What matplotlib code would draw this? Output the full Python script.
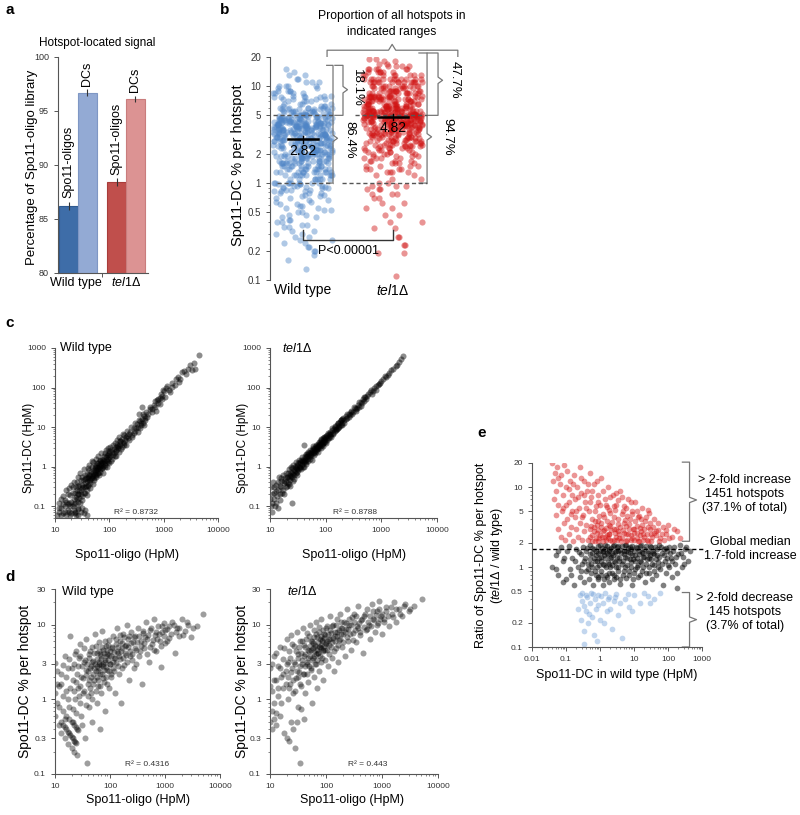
import numpy as np
import matplotlib
matplotlib.use('Agg')
import matplotlib.pyplot as plt
from matplotlib.ticker import FixedLocator, FixedFormatter, LogLocator, NullFormatter
from matplotlib.transforms import blended_transform_factory

plt.rcParams['font.family'] = ['Liberation Sans', 'DejaVu Sans']
plt.rcParams['mathtext.fontset'] = 'custom'
plt.rcParams['mathtext.rm'] = 'Liberation Sans'
plt.rcParams['mathtext.it'] = 'Liberation Sans:italic'

TEL1 = r'$\mathit{tel1}\Delta$'

# ---- panel a : hotspot-located signal
a_bar_labels = ['Spo11-oligos', 'DCs', 'Spo11-oligos', 'DCs']
a_bar_values = [86.2, 96.7, 88.4, 96.1]
a_bar_errors = [0.35, 0.3, 0.35, 0.3]
a_groups = ['Wild type', TEL1]

b_wt_levels = [0.13, 0.16, 0.18, 0.2, 0.22, 0.24, 0.26, 0.28, 0.3, 0.32, 0.35, 0.37, 0.4, 0.42, 0.45,
               0.47, 0.5, 0.53, 0.55, 0.58, 0.61, 0.64, 0.67, 0.7, 0.73, 0.76, 0.79, 0.82, 0.85, 0.88,
               0.91, 0.94, 0.97,
               1.0, 1.1, 1.2, 1.3, 1.4, 1.5, 1.6, 1.7, 1.8, 1.9, 2.0, 2.1, 2.2, 2.3, 2.4, 2.5, 2.6, 2.7, 2.8,
               2.9, 3.0, 3.1, 3.2, 3.3, 3.4, 3.5, 3.6, 3.7, 3.8, 3.9, 4.0, 4.1, 4.2, 4.3, 4.4, 4.5, 4.6,
               4.7, 4.8, 4.9,
               5.0, 5.2, 5.4, 5.6, 5.8, 6.0, 6.3, 6.6, 7.0, 7.3, 7.7, 8.0, 8.5, 9.0, 9.5, 10, 11, 12, 13, 14, 15]
b_wt_counts = [1, 1, 1, 2, 2, 2, 2, 2, 2, 2, 2, 2, 2, 2, 2, 2, 2, 2, 2, 2, 2, 2, 2, 2, 2, 2, 3, 3, 3, 3,
               3, 3, 3,
               8, 8, 10, 10, 10, 10, 10, 10, 10, 10, 10, 10, 10, 8, 8, 8, 8, 8, 8,
               8, 8, 8, 8, 8, 8, 8, 8, 8, 8, 8, 8, 8, 8, 8, 6, 6, 6, 6, 6, 4,
               6, 6, 6, 6, 6, 6, 4, 4, 4, 4, 4, 4, 4, 4, 2, 4, 3, 2, 2, 1, 1]
b_tel1_levels = [0.11, 0.19, 0.23, 0.28, 0.34, 0.4, 0.47, 0.55, 0.62, 0.7, 0.78, 0.86, 0.94,
                 1.0, 1.1, 1.2, 1.3, 1.4, 1.5, 1.6, 1.7, 1.8, 1.9, 2.0, 2.1, 2.2, 2.3, 2.4, 2.5, 2.6, 2.7,
                 2.8, 2.9, 3.0, 3.1, 3.2, 3.3, 3.4, 3.5, 3.6, 3.7, 3.8, 3.9, 4.0, 4.1, 4.2, 4.3, 4.4, 4.5,
                 4.6, 4.7, 4.8, 4.9,
                 5.0, 5.2, 5.4, 5.6, 5.8, 6.0, 6.3, 6.6, 7.0, 7.3, 7.7, 8.0, 8.5, 9.0, 9.5, 10,
                 11, 12, 13, 14, 15, 16, 17, 18, 19]
b_tel1_counts = [1, 2, 2, 2, 2, 2, 2, 2, 2, 2, 3, 3, 3,
                 2, 2, 2, 4, 4, 4, 4, 4, 4, 4, 4, 4, 4, 6, 6, 6, 6, 6, 6, 6, 6, 6, 6, 6, 6, 6, 6, 6, 6, 6,
                 8, 8, 8, 8, 8, 8, 6, 6, 6, 12,
                 12, 12, 12, 12, 10, 10, 12, 12, 12, 10, 10, 10, 10, 10, 8, 10,
                 14, 12, 8, 6, 6, 4, 2, 2, 2]
b_medians = [2.82, 4.82]
b_groups = ['Wild type', TEL1]

# ---- panel c : Spo11-DC vs Spo11-oligo (HpM)
c_wt_points = [
    (11, 0.06), (12, 0.07), (12, 0.12), (13, 0.06), (13, 0.09), (14, 0.18), (14, 0.065), (15, 0.1),
    (15, 0.14), (16, 0.06), (16, 0.25), (17, 0.08), (18, 0.12), (19, 0.19), (20, 0.065),
    (21, 0.1), (21, 0.3), (22, 0.15), (22, 0.08), (23, 0.22), (23, 0.12), (24, 0.06), (24, 0.17),
    (25, 0.26), (25, 0.4), (26, 0.13), (26, 0.2), (27, 0.09), (27, 0.32), (28, 0.16), (28, 0.24),
    (29, 0.7), (30, 0.2), (31, 0.35), (31, 0.14), (32, 0.28), (33, 0.45), (34, 0.22), (35, 0.38),
    (35, 0.6), (36, 0.3), (37, 0.5), (38, 0.19), (39, 0.42), (40, 0.33), (41, 0.55), (42, 0.8),
    (43, 0.46), (44, 0.38), (45, 0.62), (46, 0.52), (48, 1.4), (49, 0.7),
    (51, 0.58), (52, 0.45), (54, 0.75), (55, 0.9), (56, 0.62), (58, 1.1), (60, 0.8), (61, 0.68),
    (63, 1.2), (65, 0.95), (66, 1.5), (68, 0.85), (70, 1.1), (72, 1.3), (74, 0.9), (76, 1.6),
    (78, 1.2), (80, 1.4), (83, 2.2), (85, 1.1), (88, 1.7), (90, 1.35), (93, 2.0), (96, 1.6), (99, 2.5),
    (104, 1.9), (108, 1.4), (112, 2.4), (116, 2.0), (120, 2.8), (125, 1.8), (130, 3.2), (135, 2.5),
    (140, 3.6), (145, 2.9), (150, 3.3), (155, 4.5), (160, 3.8), (166, 2.8), (172, 5.0), (178, 4.2),
    (185, 3.5), (190, 6.2), (195, 4.8), (200, 5.6),
    (215, 6.0), (230, 4.8), (245, 7.5), (260, 6.4), (280, 9.5), (300, 8.0), (320, 12), (340, 10),
    (350, 22), (360, 14), (380, 11), (400, 16), (400, 33), (420, 13), (440, 19), (460, 15), (480, 24),
    (500, 18),
    (550, 28), (600, 24), (650, 36), (700, 32), (750, 48), (800, 40), (850, 55), (900, 70), (950, 50),
    (1000, 80), (1100, 95), (1250, 85), (1400, 130), (1600, 115), (1800, 190), (2000, 160),
    (2400, 260), (2800, 300), (3300, 280), (4400, 650),
    (12, 0.09), (13, 0.15), (14, 0.11), (15, 0.07), (16, 0.13), (17, 0.2), (17, 0.11), (18, 0.07),
    (18, 0.28), (19, 0.1), (20, 0.13), (20, 0.35), (19, 0.06), (23, 0.065), (27, 0.06), (30, 0.07),
    (34, 0.065), (38, 0.06), (26, 0.085), (32, 0.09), (36, 0.08),
    (21, 0.22), (22, 0.11), (22, 0.4), (23, 0.07), (24, 0.3), (25, 0.15), (26, 0.55), (27, 0.2),
    (28, 0.35), (29, 0.12), (30, 0.45), (30, 0.26), (31, 0.55), (32, 0.18), (33, 0.3), (34, 0.85),
    (35, 0.22), (36, 0.48), (37, 0.33), (38, 0.65), (39, 0.26), (40, 0.9), (40, 0.5),
    (41, 0.35), (42, 0.6), (43, 1.1), (44, 0.28), (45, 0.45), (46, 0.75), (47, 0.5), (48, 0.95),
    (49, 0.36), (50, 0.6), (51, 1.3), (52, 0.8), (53, 0.5), (54, 1.0), (55, 0.65), (56, 1.6), (57, 0.8),
    (58, 0.55), (59, 1.25), (60, 1.0), (61, 0.7), (62, 1.8), (63, 0.9), (64, 1.1), (65, 0.6), (66, 0.95),
    (67, 1.4), (68, 0.75), (69, 1.2), (70, 2.2),
    (72, 0.9), (74, 1.5), (76, 1.05), (78, 0.7), (80, 1.9), (82, 1.25), (84, 0.95), (86, 2.6), (88, 1.5),
    (90, 1.0), (92, 2.0), (94, 1.3), (96, 3.0), (98, 1.7), (100, 1.2), (100, 2.2), (104, 3.2),
    (108, 2.6), (112, 1.6), (116, 3.6), (120, 2.2), (125, 4.0), (130, 2.6), (135, 1.8), (140, 4.6),
    (145, 3.4), (150, 2.4), (150, 5.5),
    (160, 4.4), (170, 3.2), (180, 6.8), (190, 4.0), (200, 3.6), (210, 8.0), (220, 5.2), (235, 6.8),
    (250, 10), (265, 5.6), (280, 7.0), (295, 13), (310, 9.2), (330, 7.4), (350, 15), (370, 9.5),
    (390, 12.5), (410, 21), (430, 11), (450, 17),
    (520, 22), (560, 33), (620, 28), (680, 45), (720, 26), (780, 52), (850, 38), (920, 62), (980, 85),
    (1050, 58), (1150, 110), (1300, 75), (1450, 105), (1700, 160), (1900, 140), (2200, 240),
    (2600, 220), (3000, 380), (3600, 420), (3800, 300)]
c_tel1_points = [
    (10.5, 0.1), (11, 0.2), (11, 0.07), (12, 0.15), (12, 0.3), (13, 0.12), (13, 0.24), (14, 0.4),
    (14, 0.09), (15, 0.2), (15, 0.33), (16, 0.5), (17, 0.26), (18, 0.42), (19, 0.3), (20, 0.55),
    (21, 0.38), (21, 0.7), (22, 0.5), (23, 0.6), (23, 0.32), (24, 0.75), (25, 0.55), (25, 0.9),
    (25, 0.12), (26, 0.65), (27, 0.8), (27, 0.48), (28, 1.0), (29, 0.7), (29, 0.9), (30, 1.1),
    (30, 0.75), (31, 0.85), (32, 1.2), (33, 0.95), (34, 1.3), (35, 1.0), (36, 1.5), (37, 1.15),
    (38, 1.4), (39, 1.0), (40, 1.6), (40, 3.5), (41, 1.3), (42, 1.9), (43, 1.45), (44, 1.7), (45, 1.3),
    (46, 2.1), (47, 1.6), (48, 1.9), (49, 2.4), (50, 1.7),
    (52, 2.0), (54, 2.3), (55, 1.8), (57, 2.6), (59, 2.2), (60, 2.9), (62, 2.4), (64, 3.0), (65, 2.6),
    (67, 3.4), (69, 2.8), (70, 3.2), (72, 3.8), (74, 3.1), (76, 3.6), (78, 4.2), (80, 3.4), (82, 4.0),
    (84, 4.6), (86, 3.8), (88, 4.4), (90, 5.2), (92, 4.2), (94, 4.9), (97, 5.6), (99, 4.6),
    (103, 5.4), (106, 6.2), (110, 5.3), (114, 6.8), (118, 6.0), (122, 7.5), (126, 6.6), (130, 8.2),
    (135, 7.2), (140, 9.0), (145, 8.0), (150, 10), (155, 8.8), (160, 11), (165, 9.6), (170, 12.5),
    (175, 10.5), (180, 13.5), (186, 11.5), (192, 15), (196, 13), (200, 16),
    (215, 15), (230, 19), (245, 17), (260, 22), (275, 20), (290, 26), (310, 24), (330, 30), (350, 28),
    (375, 36), (400, 33), (425, 42), (450, 40), (470, 50), (490, 46), (500, 58),
    (560, 62), (620, 75), (680, 70), (740, 95), (800, 88), (880, 115), (960, 130), (1050, 160),
    (1200, 185), (1350, 230), (1500, 270), (1800, 360), (2100, 450), (2500, 620),
    (10, 0.15), (10.5, 0.3), (11, 0.12), (11.5, 0.4), (12, 0.22), (12.5, 0.1), (13, 0.35), (13.5, 0.18),
    (14, 0.26), (14.5, 0.55), (15, 0.14), (15.5, 0.42), (16, 0.3), (16.5, 0.22), (17, 0.6), (17.5, 0.38),
    (18, 0.2), (18.5, 0.5), (19, 0.7), (19.5, 0.4), (20, 0.32),
    (21, 0.55), (22, 0.85), (22, 0.36), (23, 0.45), (24, 1.0), (24, 0.58), (25, 0.7), (26, 0.42),
    (26, 1.1), (27, 0.62), (28, 0.78), (29, 1.3), (30, 0.6), (31, 1.05), (32, 0.8), (33, 1.5), (34, 0.9),
    (35, 1.2), (36, 0.85), (37, 1.7), (38, 1.1), (39, 1.35), (40, 1.0),
    (42, 1.4), (44, 2.1), (45, 1.15), (47, 1.9), (48, 1.4), (50, 2.2), (52, 1.6), (53, 2.7), (55, 2.1),
    (56, 1.5), (58, 2.4), (60, 3.3), (61, 2.0), (63, 2.8), (65, 2.2), (66, 3.6), (68, 2.5), (70, 2.8),
    (72, 3.4), (73, 2.4), (75, 4.2), (77, 3.0), (80, 3.8), (82, 2.9), (84, 5.0), (86, 3.6), (89, 4.0),
    (91, 3.3), (93, 5.6), (96, 4.2), (100, 5.8), (100, 4.0),
    (105, 4.6), (110, 7.0), (115, 5.2), (120, 6.8), (125, 5.6), (130, 9.5), (138, 6.8), (145, 10.5),
    (152, 8.2), (160, 9.0), (168, 13), (175, 9.8), (185, 15), (195, 11), (205, 17), (215, 12.5),
    (230, 16), (245, 21), (260, 18), (280, 24), (300, 21),
    (320, 33), (345, 25), (370, 31), (400, 44), (440, 35), (480, 58), (530, 50), (580, 68), (650, 85),
    (720, 80), (800, 110), (900, 120), (1000, 145), (1150, 200), (1300, 210), (1600, 300), (1900, 380),
    (2300, 520)]
c_r2 = ['R\u00b2 = 0.8732', 'R\u00b2 = 0.8788']

# ---- panel d : Spo11-DC % per hotspot vs Spo11-oligo (HpM)
d_wt_points = [
    (10, 0.6), (10, 3.1), (11, 1.6), (11, 0.9), (12, 1.5), (12, 0.45), (13, 2.2), (13, 0.35), (14, 1.1),
    (14, 0.7), (15, 0.3), (15, 3.8), (16, 1.3), (17, 0.25), (17, 2.6), (18, 0.8), (19, 7.0), (20, 0.22),
    (21, 1.8), (21, 0.5), (22, 3.0), (22, 0.2), (23, 1.0), (24, 4.5), (24, 0.65), (25, 2.2), (25, 0.18),
    (26, 1.4), (27, 3.6), (28, 0.9), (29, 5.5), (30, 2.0), (31, 0.45), (32, 1.2), (33, 3.2), (35, 0.3),
    (36, 2.5), (37, 6.5), (38, 0.14), (39, 1.6),
    (41, 4.0), (42, 0.8), (44, 2.6), (45, 1.2), (47, 5.0), (48, 0.5), (50, 3.3), (52, 1.8), (53, 7.5),
    (55, 2.4), (57, 0.9), (58, 4.2), (60, 1.5), (62, 3.0), (64, 5.8), (65, 0.4), (67, 2.2), (69, 3.8),
    (70, 1.2), (72, 8.2), (74, 2.8), (76, 4.6), (78, 1.7), (80, 3.4), (82, 0.7), (85, 5.2), (88, 2.5),
    (90, 4.0), (94, 1.4), (97, 6.2),
    (102, 3.0), (105, 2.0), (108, 4.8), (112, 7.0), (115, 2.6), (118, 3.6), (122, 1.2), (126, 5.5),
    (130, 3.1), (135, 9.0), (140, 4.2), (145, 2.2), (150, 6.0), (155, 3.5), (160, 0.9), (166, 4.8),
    (172, 7.5), (178, 2.9), (185, 5.2), (192, 3.9), (200, 10), (210, 6.5), (220, 1.8), (230, 4.4),
    (240, 8.0), (250, 3.4), (262, 5.8), (275, 2.6), (288, 7.0), (300, 4.6),
    (320, 9.0), (340, 3.8), (360, 6.0), (380, 1.6), (400, 7.8), (420, 4.9), (450, 11), (480, 6.5),
    (510, 3.2), (540, 8.5), (580, 5.5), (620, 12), (660, 7.2), (700, 4.4), (750, 9.5), (800, 6.0),
    (850, 2.7), (900, 8.0), (950, 10.5), (1000, 5.6),
    (1100, 8.8), (1200, 6.6), (1350, 11), (1500, 4.2), (1650, 9.0), (1800, 7.0), (2000, 12),
    (2300, 8.2), (2600, 10), (3000, 6.8), (3800, 9.5), (4900, 14),
    (10, 1.2), (11, 2.4), (12, 0.8), (13, 1.6), (14, 2.9), (15, 0.55), (16, 2.0), (17, 1.0), (18, 3.5),
    (19, 1.4), (20, 2.6), (21, 0.75), (22, 1.3), (23, 4.0), (24, 1.7), (25, 0.4), (26, 2.8), (27, 1.1),
    (28, 3.8), (29, 1.5), (30, 0.6),
    (13, 0.5), (14, 0.45), (15, 0.42), (16, 0.4), (17, 0.37), (18, 0.35), (19, 0.33), (20, 0.31),
    (21, 0.3), (22, 0.28), (23, 0.27), (24, 0.26), (16, 0.6), (18, 0.55), (20, 0.5), (22, 0.45),
    (24, 0.42), (26, 0.39),
    (31, 2.8), (32, 1.9), (33, 4.8), (34, 1.3), (35, 3.4), (36, 0.85), (37, 2.1), (38, 3.0), (39, 1.1),
    (40, 2.4), (41, 1.8), (42, 3.6), (43, 1.4), (44, 4.5), (45, 2.0), (46, 2.8), (47, 1.0), (48, 3.2),
    (49, 2.2), (50, 1.6), (51, 4.2), (52, 2.6), (54, 3.0), (55, 1.3), (56, 5.2), (57, 2.0), (58, 2.8),
    (59, 3.5), (60, 2.4),
    (61, 1.8), (62, 4.4), (63, 2.6), (64, 3.2), (66, 1.5), (67, 4.0), (68, 2.9), (70, 3.5), (71, 2.2),
    (73, 5.0), (74, 1.9), (75, 3.0), (77, 4.2), (78, 2.5), (80, 6.0), (81, 3.2), (83, 2.0), (84, 3.8),
    (86, 2.7), (87, 4.6), (89, 1.6), (91, 3.4), (92, 5.4), (95, 2.4), (96, 3.9), (98, 3.0), (100, 4.4),
    (103, 2.2), (106, 3.8), (110, 5.0), (113, 3.2), (116, 4.3), (119, 2.4),
    (124, 3.6), (128, 6.5), (132, 4.4), (137, 2.8), (142, 5.0), (147, 3.8), (152, 7.2), (158, 4.4),
    (163, 2.6), (168, 5.6), (175, 3.6), (182, 6.8), (188, 4.2), (195, 5.4), (205, 3.2), (215, 5.0),
    (225, 7.0), (235, 3.8), (245, 5.6), (255, 4.0), (270, 6.8), (285, 4.8), (300, 3.0), (315, 5.8),
    (330, 7.0), (350, 4.4), (370, 5.2), (390, 8.2),
    (410, 5.6), (440, 6.8), (470, 4.0), (500, 7.2), (530, 5.0), (560, 9.0), (600, 6.2), (640, 4.6),
    (680, 8.0), (720, 6.4), (780, 7.4), (830, 5.2), (880, 9.5), (940, 7.0), (1000, 8.4), (1100, 6.0),
    (1200, 9.6), (1300, 7.6), (1450, 10), (1600, 8.0), (1800, 9.0), (2100, 7.2), (2500, 11), (3200, 9.0)]
d_tel1_points = [
    (10, 0.5), (10, 2.6), (11, 1.3), (11, 0.7), (12, 3.8), (12, 0.9), (13, 1.8), (13, 0.45), (14, 2.8),
    (14, 1.1), (15, 5.0), (15, 0.6), (16, 2.0), (17, 1.4), (17, 3.5), (18, 0.35), (19, 2.4), (20, 6.5),
    (21, 1.0), (21, 3.2), (22, 0.28), (22, 4.4), (23, 1.6), (24, 7.2), (24, 0.5), (25, 2.6), (26, 1.2),
    (27, 5.2), (28, 0.22), (28, 3.0), (29, 1.9), (30, 8.0), (31, 0.8), (32, 4.0), (33, 2.3), (34, 0.14),
    (35, 6.0), (36, 1.5), (38, 3.4), (39, 9.0),
    (41, 2.2), (42, 5.0), (43, 1.2), (45, 7.8), (46, 3.0), (48, 1.7), (50, 4.4), (52, 10), (53, 2.6),
    (55, 6.0), (57, 0.9), (58, 3.6), (60, 8.5), (62, 2.0), (64, 5.2), (65, 11), (67, 3.0), (69, 1.4),
    (70, 6.8), (72, 4.2), (74, 2.4), (76, 9.2), (78, 5.0), (80, 3.2), (83, 12), (85, 6.2), (88, 1.8),
    (90, 4.6), (94, 7.5), (97, 3.4),
    (102, 5.5), (105, 9.5), (108, 2.8), (112, 6.5), (115, 4.0), (118, 13), (122, 7.8), (126, 3.6),
    (130, 5.8), (135, 10), (140, 2.4), (145, 7.0), (150, 4.8), (155, 12), (160, 8.0), (166, 3.2),
    (172, 6.2), (178, 14), (185, 9.0), (192, 5.0), (200, 7.5), (210, 11), (220, 3.8), (230, 8.8),
    (240, 16), (250, 6.0), (262, 10), (275, 4.6), (288, 12.5), (300, 7.8),
    (320, 14), (340, 5.8), (360, 9.5), (380, 18), (400, 7.2), (420, 11.5), (450, 4.2), (480, 13),
    (510, 8.5), (540, 16), (580, 10), (620, 6.5), (660, 19), (700, 12), (750, 8.0), (800, 15),
    (850, 10.5), (900, 21), (950, 13), (1000, 7.5),
    (1100, 12), (1200, 17), (1350, 9.5), (1500, 14), (1650, 20), (1800, 11), (2000, 16), (2300, 13),
    (2600, 19), (3000, 15), (3800, 18), (5200, 22),
    (10, 1.5), (11, 3.0), (12, 1.8), (13, 4.2), (14, 1.4), (15, 2.6), (16, 0.9), (17, 2.2), (18, 4.8),
    (19, 1.6), (20, 3.0), (21, 2.0), (22, 1.4), (23, 3.6), (24, 2.3), (25, 5.5), (26, 1.8), (27, 3.2),
    (28, 1.3), (29, 4.4), (30, 2.4),
    (11, 0.4), (12, 0.55), (13, 0.65), (20, 0.3), (26, 0.4), (30, 0.5), (36, 0.75), (40, 0.55),
    (31, 3.6), (32, 2.0), (33, 5.0), (34, 2.8), (35, 1.6), (36, 4.2), (37, 3.0), (38, 6.0), (39, 2.2),
    (40, 3.8), (41, 5.4), (42, 2.8), (43, 4.0), (44, 6.5), (45, 3.2), (46, 2.2), (47, 4.6), (48, 3.6),
    (49, 7.0), (50, 2.8), (51, 5.2), (52, 3.8), (54, 4.6), (55, 2.5), (56, 6.0), (57, 3.4), (58, 4.8),
    (59, 5.6), (60, 3.8),
    (61, 4.4), (62, 6.8), (63, 3.0), (64, 5.4), (66, 4.0), (67, 7.5), (68, 4.6), (70, 3.4), (71, 5.8),
    (73, 4.2), (74, 8.0), (75, 5.0), (77, 3.8), (78, 6.4), (80, 4.8), (81, 7.0), (83, 5.4), (84, 3.6),
    (86, 6.0), (87, 4.4), (89, 8.5), (91, 5.2), (92, 6.6), (95, 4.6), (96, 7.2), (98, 5.6), (100, 9.0),
    (103, 6.0), (106, 4.6), (110, 7.6), (113, 5.4), (116, 8.6), (119, 6.4),
    (124, 5.0), (128, 9.5), (132, 6.6), (137, 4.4), (142, 8.0), (147, 6.0), (152, 10), (158, 7.0),
    (163, 5.4), (168, 8.6), (175, 6.4), (182, 11), (188, 7.4), (195, 9.0), (205, 5.8), (215, 8.0),
    (225, 10.5), (235, 6.8), (245, 8.8), (255, 12), (270, 7.6), (285, 9.8), (300, 6.2), (315, 11),
    (330, 8.4), (350, 13), (370, 9.0), (390, 10.5),
    (410, 8.0), (440, 12), (470, 9.4), (500, 14), (530, 8.8), (560, 11), (600, 13), (640, 9.6),
    (680, 15), (720, 11.5), (780, 13.5), (830, 10), (880, 16), (940, 12), (1000, 14), (1100, 11),
    (1200, 15), (1300, 13), (1450, 17), (1600, 12.5), (1800, 16), (2100, 14), (2500, 18), (3200, 16)]
d_r2 = ['R\u00b2 = 0.4316', 'R\u00b2 = 0.443']

# ---- panel e : ratio tel1/wt vs Spo11-DC in wild type
e_up_points = [
    (0.04, 20), (0.042, 12), (0.045, 7), (0.048, 15), (0.05, 4.5), (0.05, 9), (0.055, 18), (0.06, 3),
    (0.06, 6), (0.065, 11), (0.07, 2.4), (0.07, 14), (0.075, 5), (0.08, 8), (0.085, 3.6), (0.09, 19),
    (0.095, 2.2), (0.1, 10),
    (0.11, 4), (0.11, 16), (0.12, 6.5), (0.12, 2.6), (0.13, 12), (0.14, 3.2), (0.15, 8), (0.15, 5),
    (0.16, 2.1), (0.17, 14), (0.18, 4.2), (0.19, 7), (0.2, 3), (0.21, 10), (0.22, 2.4), (0.24, 5.5),
    (0.25, 18), (0.26, 3.6), (0.28, 8.5), (0.3, 2.2),
    (0.32, 4.5), (0.33, 12), (0.35, 2.8), (0.37, 6.5), (0.4, 3.4), (0.42, 9), (0.45, 2.2), (0.48, 5),
    (0.5, 15), (0.52, 3), (0.55, 7.5), (0.58, 2.5), (0.6, 4), (0.65, 11), (0.68, 3.2), (0.7, 2.1),
    (0.75, 5.8), (0.8, 2.7), (0.85, 8), (0.9, 3.8), (0.95, 2.3), (1.0, 6),
    (1.05, 3.2), (1.1, 13), (1.15, 2.4), (1.2, 4.6), (1.3, 2.9), (1.4, 7), (1.5, 2.2), (1.6, 3.8),
    (1.7, 10), (1.8, 2.6), (1.9, 5.2), (2.0, 3.3), (2.2, 2.1), (2.4, 8), (2.6, 4.2), (2.8, 2.7),
    (3.0, 6), (3.3, 3.5), (3.6, 2.3), (4.0, 9), (4.4, 4.6), (4.8, 2.9), (5.2, 5.8), (5.7, 3.3),
    (6.2, 2.2), (6.8, 7), (7.4, 4), (8.0, 2.5), (9.0, 5), (10, 3),
    (11, 6.5), (12, 2.3), (13, 4.2), (15, 3.1), (17, 5.5), (19, 2.6), (21, 3.8), (24, 2.2), (27, 4.8),
    (30, 3), (34, 2.4), (38, 4), (43, 2.8), (50, 3.6), (60, 2.3), (70, 3.2), (85, 2.6), (100, 3.4),
    (130, 2.4), (190, 2.8),
    (1.2, 2.1), (1.6, 2.5), (2.0, 2.2), (2.5, 3.0), (3.0, 2.4), (3.5, 2.8), (4.2, 2.1), (5.0, 3.6),
    (6.0, 2.6), (7.0, 3.0), (8.5, 2.3), (10, 2.7), (12, 3.3), (14, 2.1), (16, 2.8), (20, 2.4),
    (25, 3.2), (32, 2.1), (40, 2.7), (55, 2.1),
    (0.5, 2.4), (0.55, 3.3), (0.6, 2.1), (0.65, 2.8), (0.7, 3.8), (0.75, 2.3), (0.8, 3.4), (0.85, 2.1),
    (0.9, 2.9), (0.95, 4.4), (1.0, 2.5), (1.1, 3.6), (1.2, 2.8), (1.3, 4.2), (1.4, 2.4), (1.5, 3.1),
    (1.6, 5.6), (1.7, 2.3), (1.8, 3.4), (1.9, 2.6), (2.0, 4.8), (2.1, 2.9), (2.3, 3.7), (2.5, 2.2),
    (2.7, 5.2), (2.9, 3.0), (3.1, 2.2), (3.4, 4.0), (3.7, 2.6), (4.0, 3.2), (4.3, 2.3), (4.6, 5.0),
    (5.0, 2.7), (5.4, 3.9), (5.8, 2.1), (6.3, 4.4), (6.8, 2.6), (7.3, 3.5), (7.9, 2.2), (8.5, 4.6),
    (9.2, 3.0), (10, 2.2), (11, 3.8), (12, 2.7), (13, 2.1), (14, 4.4), (15, 2.5), (17, 3.4), (18, 2.2),
    (20, 3.0), (22, 4.2), (24, 2.6), (26, 2.1), (29, 3.6), (32, 2.6), (36, 3.2), (45, 2.5), (52, 2.9),
    (65, 2.6), (75, 2.2), (90, 2.9), (110, 2.3), (150, 3.0), (220, 2.3),
    (0.06, 13), (0.08, 5.5), (0.1, 6), (0.12, 9.5), (0.14, 4.6), (0.16, 11), (0.2, 5), (0.22, 7.5),
    (0.27, 13), (0.3, 4.2), (0.35, 8), (0.4, 5.5), (0.45, 11), (0.5, 6.5), (0.6, 9), (0.7, 5),
    (0.8, 12), (0.9, 6.5), (1.2, 9), (1.5, 6), (2.0, 7.5), (2.5, 5.8), (3.0, 8.5), (3.5, 6.8),
    (4.5, 7.5), (6, 5.5), (8, 6.5), (12, 5), (16, 4), (25, 5.2)]
e_mid_points = [
    (0.04, 1.0), (0.05, 1.4), (0.06, 0.8), (0.07, 1.8), (0.08, 1.2), (0.1, 0.7), (0.11, 1.6),
    (0.13, 0.95), (0.15, 1.3), (0.17, 0.6), (0.2, 1.7), (0.22, 1.0), (0.25, 0.75), (0.28, 1.45),
    (0.3, 1.1),
    (0.32, 1.8), (0.34, 0.65), (0.36, 1.3), (0.38, 0.9), (0.4, 1.6), (0.43, 1.1), (0.46, 0.7),
    (0.5, 1.9), (0.52, 1.25), (0.55, 0.85), (0.58, 1.5), (0.6, 1.0), (0.64, 0.6), (0.67, 1.7),
    (0.7, 1.2), (0.74, 0.8), (0.78, 1.4), (0.82, 1.0), (0.86, 1.85), (0.9, 0.7), (0.95, 1.3), (1.0, 1.6),
    (1.05, 0.9), (1.1, 1.2), (1.15, 1.75), (1.2, 0.6), (1.3, 1.4), (1.35, 1.05), (1.4, 1.9), (1.5, 0.8),
    (1.6, 1.5), (1.7, 1.15), (1.8, 0.65), (1.9, 1.7), (2.0, 1.0), (2.1, 1.35), (2.2, 0.85),
    (2.35, 1.85), (2.5, 1.2), (2.6, 0.7), (2.8, 1.55), (3.0, 1.0), (3.2, 1.8), (3.4, 0.9), (3.6, 1.3),
    (3.8, 0.62), (4.0, 1.65), (4.3, 1.1), (4.6, 0.8), (5.0, 1.45), (5.3, 1.9), (5.6, 1.0), (6.0, 0.72),
    (6.4, 1.3), (6.8, 1.75), (7.2, 0.9), (7.6, 1.5), (8.0, 1.15), (8.5, 0.6), (9.0, 1.85), (9.5, 1.25),
    (10, 0.85), (1.25, 1.55), (2.3, 1.5), (3.5, 1.6), (5.8, 1.6), (8.2, 1.7),
    (11, 1.4), (11.5, 1.8), (12, 1.0), (13, 0.75), (14, 1.6), (15, 1.2), (16, 1.9), (17, 0.9),
    (18, 1.35), (20, 1.7), (21, 0.65), (23, 1.1), (25, 1.5), (27, 0.85), (29, 1.85), (31, 1.25),
    (33, 0.7), (36, 1.6), (39, 1.05), (42, 1.8), (45, 0.8), (48, 1.4), (52, 1.15), (56, 1.9),
    (60, 0.95), (65, 1.5), (70, 0.6), (75, 1.7), (80, 1.2), (86, 0.85), (92, 1.6), (100, 1.05),
    (18, 1.5), (28, 1.3), (40, 1.45),
    (110, 1.8), (120, 1.3), (130, 0.75), (145, 1.6), (160, 1.1), (180, 0.55), (200, 1.45), (220, 1.9),
    (250, 1.0), (280, 1.35), (320, 1.7), (380, 1.2), (440, 1.6),
    (0.5, 1.45), (0.55, 1.1), (0.6, 1.75), (0.65, 1.3), (0.7, 0.9), (0.75, 1.6), (0.8, 1.2),
    (0.85, 0.75), (0.9, 1.5), (0.95, 1.05), (1.0, 1.9), (1.05, 1.35), (1.1, 0.8), (1.2, 1.6),
    (1.25, 1.1), (1.3, 0.7), (1.4, 1.3), (1.45, 1.7), (1.5, 1.0), (1.6, 1.85), (1.65, 0.75), (1.7, 1.45),
    (1.8, 1.1), (1.85, 1.6), (1.9, 0.85), (2.0, 1.3), (2.1, 1.75), (2.2, 1.05), (2.4, 1.4), (2.5, 0.8),
    (2.6, 1.9), (2.7, 1.15), (2.9, 1.6), (3.0, 0.75), (3.1, 1.35), (3.3, 1.0), (3.5, 1.85), (3.7, 1.2),
    (3.9, 0.7), (4.1, 1.5), (4.4, 1.85), (4.7, 1.2), (5.0, 0.9), (5.2, 1.6), (5.5, 1.35), (6.0, 1.9),
    (6.2, 1.05), (6.6, 1.55), (7.0, 0.8), (7.4, 1.25), (7.8, 1.8), (8.2, 1.0), (8.8, 1.4), (9.3, 0.7),
    (10, 1.6), (10.5, 1.2), (11, 0.95), (12, 1.75), (12.5, 1.3), (13, 1.05), (14, 1.45), (15, 0.8),
    (15.5, 1.85), (16.5, 1.15), (17.5, 1.55), (19, 1.0), (20, 1.35), (22, 1.85), (23, 0.85), (24, 1.25),
    (26, 1.6), (28, 1.0), (30, 1.4), (32, 1.8), (34, 1.1), (37, 1.5), (40, 0.9), (43, 1.25), (46, 1.7),
    (50, 1.0), (55, 1.35), (62, 1.8), (68, 1.1), (76, 1.4), (85, 1.75), (95, 1.3), (105, 1.0),
    (115, 1.5), (135, 1.2), (150, 1.8), (170, 1.35), (190, 0.85), (240, 1.5), (300, 1.1), (350, 1.8),
    (0.05, 0.95), (0.06, 1.6), (0.08, 0.65), (0.09, 1.3), (0.12, 1.85), (0.14, 0.8), (0.18, 1.2),
    (0.24, 1.55), (0.27, 0.9), (0.33, 1.2), (0.42, 1.75), (0.45, 0.95)]
e_down_points = [
    (0.22, 0.3), (0.25, 0.45), (0.28, 0.22), (0.3, 0.38), (0.33, 0.16), (0.35, 0.11), (0.38, 0.45),
    (0.4, 0.28), (0.45, 0.2), (0.5, 0.35), (0.55, 0.48), (0.6, 0.24), (0.65, 0.14), (0.7, 0.4),
    (0.75, 0.3), (0.8, 0.12), (0.9, 0.45), (1.0, 0.22), (1.2, 0.35), (1.4, 0.47), (1.6, 0.28),
    (1.9, 0.42), (2.2, 0.17), (2.5, 0.38), (3.0, 0.46), (3.5, 0.25), (4.5, 0.13), (5.5, 0.4),
    (7, 0.32), (10, 0.45), (15, 0.36), (25, 0.44), (40, 0.4), (60, 0.47),
    (0.3, 0.48), (0.35, 0.33), (0.42, 0.42), (0.48, 0.26), (0.62, 0.46), (0.85, 0.34), (1.1, 0.44),
    (1.3, 0.2), (1.7, 0.4), (2.0, 0.3), (2.8, 0.42), (4.0, 0.36), (6.5, 0.46), (9, 0.28), (20, 0.48),
    (30, 0.35)]
e_median = 1.7

W, H = 800, 815
GREY = '#555555'
fig = plt.figure(figsize=(W / 100, H / 100), dpi=100)


def axes_px(l, t, r, b):
    return fig.add_axes([l / W, 1 - b / H, (r - l) / W, (b - t) / H])


def ftext(x, y, s, **kw):
    fig.text(x / W, 1 - y / H, s, **kw)


def plain_spines(ax, bottom=True):
    for s in ['top', 'right']:
        ax.spines[s].set_visible(False)
    ax.spines['bottom'].set_visible(bottom)
    for s in ['left', 'bottom']:
        ax.spines[s].set_color(GREY)
        ax.spines[s].set_linewidth(0.8)


def log_ticks(axis, ticks):
    axis.set_major_locator(FixedLocator(ticks))
    axis.set_major_formatter(FixedFormatter(['%g' % t for t in ticks]))
    axis.set_minor_locator(LogLocator(base=10, subs=np.arange(2, 10), numticks=30))
    axis.set_minor_formatter(NullFormatter())


def tick_style(ax, size=6):
    ax.tick_params(which='both', direction='out', colors=GREY, labelsize=size, labelcolor='#333333')
    ax.tick_params(which='major', length=3, width=0.7)
    ax.tick_params(which='minor', length=1.7, width=0.5)


def vbrace(ax, x, y0, y1, ytip, hook, tip, **kw):
    # bracket on the right side of a y-range (log y), hooks point left, tip points right
    ax.plot([x - hook, x, x, x + tip, x, x, x - hook],
            [y1, y1, ytip * 1.08, ytip, ytip / 1.08, y0, y0], clip_on=False, **kw)


def strip_jitter(n, half):
    # spread points sideways inside the strip (position only)
    h = np.sin(np.arange(n) * 12.9898 + 1.0) * 43758.5453
    return (h - np.floor(h) - 0.5) * 2 * half


# ---------------- a
ax = axes_px(58, 57, 148, 273)
a_pos = [0.55, 1.5, 3.0, 3.95]
a_colors = ['#3e6da8', '#93aad4', '#c04f4c', '#dc9393']
a_edges = ['#2f5a90', '#7f97c4', '#a83c3a', '#c97d7d']
ax.bar(a_pos, a_bar_values, width=0.95, color=a_colors, edgecolor=a_edges, linewidth=0.8)
ax.errorbar(a_pos, a_bar_values, yerr=a_bar_errors, fmt='none', ecolor='#333333', elinewidth=0.8)
for p, v, e, lab in zip(a_pos, a_bar_values, a_bar_errors, a_bar_labels):
    ax.text(p, v + e + 0.35, lab, rotation=90, ha='center', va='bottom', fontsize=9)
ax.set_xlim(0, 4.6)
ax.set_ylim(80, 100)
ax.set_yticks([80, 85, 90, 95, 100])
ax.set_xticks([2.25])
ax.set_xticklabels([''])
plain_spines(ax)
tick_style(ax, 6.5)
tr = blended_transform_factory(ax.transData, ax.transAxes)
for x, g in zip([0.92, 3.47], a_groups):
    ax.text(x, -0.046, g, transform=tr, ha='center', va='center', fontsize=9)
ax.set_ylabel('Percentage of Spo11-oligo library', fontsize=9.5, ha='center', va='center')
ax.yaxis.set_label_coords(-0.29, 0.49)
ftext(97, 43, 'Hotspot-located signal', ha='center', va='center', fontsize=8.5)
ftext(5, 10, 'a', fontsize=11, fontweight='bold', va='center')

# ---------------- b
ax = axes_px(270, 57, 460, 280)
ax.set_yscale('log')
ax.set_ylim(0.1, 20)
ax.set_xlim(-0.367, 1.744)
b_data = [np.repeat(b_wt_levels, b_wt_counts), np.repeat(b_tel1_levels, b_tel1_counts)]
b_colors = ['#4f85c6', '#d01212']
for i, (vals, col) in enumerate(zip(b_data, b_colors)):
    ax.scatter(i + strip_jitter(len(vals), 0.33), vals, s=20, color=col, alpha=0.45,
               linewidths=0, zorder=2)
for i, m in enumerate(b_medians):
    ax.plot([i - 0.17, i + 0.17], [m, m], color='k', lw=1.8, zorder=4)
    ax.plot([i, i], [m / 1.08, m * 1.08], color='k', lw=1, zorder=4)
    ax.annotate('%.2f' % m, (i, m), xytext=(0, -8), textcoords='offset points',
                ha='center', va='center', fontsize=10, zorder=5)
dash = dict(color=GREY, lw=1, ls=(0, (3, 2)), zorder=3)
ax.plot([-0.333, 0.356], [5, 5], **dash)
ax.plot([0.578, 1.378], [5, 5], **dash)
ax.plot([-0.29, 0.333], [1, 1], **dash)
ax.plot([0.433, 1.378], [1, 1], **dash)
br = dict(color='#777777', lw=0.9)
vbrace(ax, 0.444, 5, 16.4, 9.2, 0.09, 0.05, **br)
vbrace(ax, 0.333, 1, 16.4, 2.9, 0.07, 0.05, **br)
vbrace(ax, 1.378, 1, 22, 3.0, 0.09, 0.05, **br)
vbrace(ax, 1.5, 5, 22, 11.5, 0.12, 0.05, **br)
ax.text(0.6, 9.6, '18.1%', rotation=-90, ha='center', va='center', fontsize=9.5)
ax.text(0.52, 2.8, '86.4%', rotation=-90, ha='center', va='center', fontsize=9.5)
ax.text(1.6, 3.0, '94.7%', rotation=-90, ha='center', va='center', fontsize=9.5)
ax.text(1.68, 11.7, '47.7%', rotation=-90, ha='center', va='center', fontsize=9.5)
# top brace
ax.plot([0.267, 0.267, 0.95, 0.99, 1.03, 1.72, 1.72], [20.3, 23.5, 23.5, 27, 23.5, 23.5, 20.3],
        clip_on=False, **br)
ftext(392, 24, 'Proportion of all hotspots in\nindicated ranges', ha='center', va='center',
      fontsize=8.7, linespacing=1.35)
# p value
ax.plot([0, 0, 1, 1], [0.33, 0.26, 0.26, 0.33], color='#333333', lw=1)
ax.text(0.5, 0.2, 'P<0.00001', ha='center', va='center', fontsize=9)
log_ticks(ax.yaxis, [0.1, 0.2, 0.5, 1, 2, 5, 10, 20])
ax.set_xticks([])
plain_spines(ax, bottom=False)
tick_style(ax, 7)
for i, g in enumerate(b_groups):
    ax.text(i, -0.045, g, transform=blended_transform_factory(ax.transData, ax.transAxes),
            ha='center', va='center', fontsize=10)
ax.set_ylabel('Spo11-DC % per hotspot', fontsize=10.5, ha='center', va='center')
ax.yaxis.set_label_coords(-0.168, 0.516)
ftext(220, 10, 'b', fontsize=11, fontweight='bold', va='center')


# ---------------- c, d
def cloud_panel(box, pts, ylim, yticks, title, r2, ylab, ylab_xy, xlab_xy, title_xy, r2_xy, ylab_size,
                alpha):
    ax = axes_px(*box)
    x, y = zip(*pts)
    ax.scatter(x, y, s=19, color='k', alpha=alpha, linewidths=0)
    ax.set_xscale('log')
    ax.set_yscale('log')
    ax.set_xlim(10, 10000)
    ax.set_ylim(*ylim)
    log_ticks(ax.xaxis, [10, 100, 1000, 10000])
    log_ticks(ax.yaxis, yticks)
    plain_spines(ax)
    tick_style(ax, 6)
    ax.text(title_xy[0], title_xy[1], title, transform=ax.transAxes, ha='left', va='center', fontsize=9)
    ax.text(r2_xy[0], r2_xy[1], r2, transform=ax.transAxes, ha='center', va='center', fontsize=6,
            color='#333333')
    ax.set_ylabel(ylab, fontsize=ylab_size, ha='center', va='center')
    ax.yaxis.set_label_coords(*ylab_xy)
    ax.set_xlabel('Spo11-oligo (HpM)', fontsize=9, ha='center', va='center')
    ax.xaxis.set_label_coords(*xlab_xy)
    return ax


c_ticks = [0.1, 1, 10, 100, 1000]
cloud_panel((55, 348, 218, 518), c_wt_points, (0.05, 1000), c_ticks, 'Wild type', c_r2[0],
            'Spo11-DC (HpM)', (-0.16, 0.41), (0.44, -0.218), (0.03, 1.0), (0.5, 0.03), 8.5, 0.45)
cloud_panel((270, 348, 437, 518), c_tel1_points, (0.05, 1000), c_ticks, TEL1, c_r2[1],
            'Spo11-DC (HpM)', (-0.16, 0.41), (0.5, -0.218), (0.07, 1.0), (0.51, 0.03), 8.5, 0.45)
d_ticks = [0.1, 0.3, 1, 3, 10, 30]
cloud_panel((55, 589, 220, 774), d_wt_points, (0.1, 30), d_ticks, 'Wild type', d_r2[0],
            'Spo11-DC % per hotspot', (-0.18, 0.5), (0.5, -0.14), (0.04, 0.985), (0.56, 0.049), 10, 0.38)
cloud_panel((270, 589, 438, 774), d_tel1_points, (0.1, 30), d_ticks, TEL1, d_r2[1],
            'Spo11-DC % per hotspot', (-0.167, 0.5), (0.49, -0.14), (0.1, 0.985), (0.58, 0.049), 10, 0.38)
ftext(5, 323, 'c', fontsize=11, fontweight='bold', va='center')
ftext(5, 577, 'd', fontsize=11, fontweight='bold', va='center')

# ---------------- e
ax = axes_px(532, 463, 702, 647)
for pts, col, al in [(e_mid_points, '#000000', 0.5), (e_up_points, '#d41414', 0.45),
                     (e_down_points, '#6f9fd8', 0.42)]:
    x, y = zip(*pts)
    ax.scatter(x, y, s=17, color=col, alpha=al, linewidths=0)
ax.set_xscale('log')
ax.set_yscale('log')
ax.set_xlim(0.01, 1000)
ax.set_ylim(0.1, 20)
ax.axhline(e_median, xmin=0, xmax=1.02, color='k', lw=1, ls=(0, (3, 2)), clip_on=False)
log_ticks(ax.xaxis, [0.01, 0.1, 1, 10, 100, 1000])
log_ticks(ax.yaxis, [0.1, 0.2, 0.5, 1, 2, 5, 10, 20])
plain_spines(ax)
tick_style(ax, 6)
vbrace(ax, 430, 2.1, 20.5, 6.9, 165, 260, **br)
vbrace(ax, 430, 0.1, 0.48, 0.22, 165, 260, **br)
ax.set_xlabel('Spo11-DC in wild type (HpM)', fontsize=9, ha='center', va='center')
ax.xaxis.set_label_coords(0.5, -0.152)
ax.set_ylabel('Ratio of Spo11-DC % per hotspot\n(' + TEL1 + ' / wild type)', fontsize=9,
              ha='center', va='center', linespacing=1.2)
ax.yaxis.set_label_coords(-0.247, 0.5)
ftext(745, 494, '> 2-fold increase\n1451 hotspots\n(37.1% of total)', ha='center', va='center',
      fontsize=9, linespacing=1.25)
ftext(750, 549, 'Global median\n1.7-fold increase', ha='center', va='center', fontsize=9,
      linespacing=1.25)
ftext(745, 612, '> 2-fold decrease\n145 hotspots\n(3.7% of total)', ha='center', va='center',
      fontsize=9, linespacing=1.25)
ftext(477, 433, 'e', fontsize=11, fontweight='bold', va='center')

fig.savefig('out.png', dpi=100)
